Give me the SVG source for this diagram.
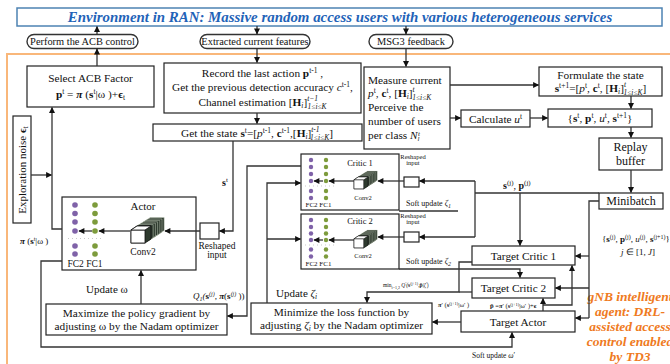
<svg xmlns="http://www.w3.org/2000/svg" xmlns:xlink="http://www.w3.org/1999/xlink" width="670" height="364" viewBox="0 0 670 364">
<defs>
<style>
text{font-family:"Liberation Serif","Times New Roman",serif;fill:#111}
.bx{fill:#fff;stroke:#222;stroke-width:1.2}
.pill{fill:#fff;stroke:#333;stroke-width:1.4}
.ln{fill:none;stroke:#333;stroke-width:1.3}
.ar{fill:none;stroke:#333;stroke-width:1.3;marker-end:url(#ah)}
.t{font-size:11.3px}
.pt{font-size:10.4px}
.c{text-anchor:middle}
.b{font-weight:bold}
.i{font-style:italic}
.pu{fill:#7f62a8}
.gr{fill:#7d9b3c}
.sep{stroke:#bbb;stroke-width:0.8;stroke-dasharray:1 3}
.or{fill:#ef7a22}
</style>
<marker id="ah" viewBox="0 0 10 10" refX="9" refY="5" markerWidth="7" markerHeight="6" markerUnits="userSpaceOnUse" orient="auto">
<path d="M0,0 L10,5 L0,10 z" fill="#111"/>
</marker>
<g id="conv">
<polygon points="13.2,5.6 19.2,1.6 33.2,1.6 33.2,14.6 27.2,18.6 13.2,18.6" fill="#2e3a2e" stroke="#c9d2c0" stroke-width="0.5"/>
<polygon points="11,7 17,3 31,3 31,16 25,20 11,20" fill="#2e3a2e" stroke="#c9d2c0" stroke-width="0.5"/>
<polygon points="8.8,8.4 14.8,4.4 28.8,4.4 28.8,17.4 22.8,21.4 8.8,21.4" fill="#2e3a2e" stroke="#c9d2c0" stroke-width="0.5"/>
<polygon points="6.6,9.8 12.6,5.8 26.6,5.8 26.6,18.8 20.6,22.8 6.6,22.8" fill="#2e3a2e" stroke="#c9d2c0" stroke-width="0.5"/>
<polygon points="4.4,11.2 10.4,7.2 24.4,7.2 24.4,20.2 18.4,24.2 4.4,24.2" fill="#2e3a2e" stroke="#c9d2c0" stroke-width="0.5"/>
<polygon points="2.2,12.6 8.2,8.6 22.2,8.6 22.2,21.6 16.2,25.6 2.2,25.6" fill="#2e3a2e" stroke="#c9d2c0" stroke-width="0.5"/>
<polygon points="0,14 6,10 20,10 20,23 14,27 0,27" fill="#2e3a2e" stroke="#111" stroke-width="0.8"/>
<rect x="0" y="14" width="14" height="13" fill="#fff" stroke="#111" stroke-width="0.8"/>
<polygon points="0,14 6,10 20,10 14,14" fill="#fff" stroke="#111" stroke-width="0.8"/>
</g>
</defs>

<rect width="670" height="364" fill="#fff"/>

<!-- orange frame -->
<path d="M7,364 L7,54 L670,54" fill="none" stroke="#f9b77a" stroke-width="2"/>

<g id="banner">
<rect x="17" y="8" width="645" height="18" fill="#fff" stroke="#4d83b3" stroke-width="1.5"/>
<text x="340" y="21.7" class="c b i" style="font-size:14.9px;fill:#1f63b8">Environment in RAN: Massive random access users with various heterogeneous services</text>
</g>

<g id="perform">
<rect x="27" y="34.5" width="111" height="14" rx="7" class="pill"/>
<text x="82.5" y="45.2" class="pt c">Perform the ACB control</text>
</g>
<g id="extracted">
<rect x="200" y="34.5" width="110" height="14" rx="7" class="pill"/>
<text x="255" y="45.2" class="pt c">Extracted current features</text>
</g>
<g id="msg3">
<rect x="369" y="34.5" width="84" height="14" rx="7" class="pill"/>
<text x="411" y="45.2" class="pt c">MSG3 feedback</text>
</g>

<g id="select">
<rect x="27" y="66" width="127" height="41" class="bx"/>
<text x="90.5" y="82" class="t c">Select ACB Factor</text>
<text x="90.5" y="98" class="t c"><tspan class="b">p</tspan><tspan dy="-4" font-size="7.5">t</tspan><tspan dy="4"> = </tspan><tspan class="b i">π</tspan><tspan> (</tspan><tspan class="b">s</tspan><tspan dy="-4" font-size="7.5">t</tspan><tspan dy="4">|ω )+</tspan><tspan class="b">ϵ</tspan><tspan dy="2" font-size="7.5">t</tspan></text>
</g>

<g id="record">
<rect x="164" y="63" width="197" height="50" class="bx"/>
<text x="262.5" y="77" class="t c">Record the last action <tspan class="b">p</tspan><tspan dy="-4" font-size="7.5">t-1</tspan><tspan dy="4"> ,</tspan></text>
<text x="262.5" y="91" class="t c">Get the previous detection accuracy <tspan class="i">c</tspan><tspan dy="-4" font-size="7.5">t-1</tspan><tspan dy="4">,</tspan></text>
<text x="262.5" y="106" class="t c">Channel estimation [<tspan class="b">H</tspan><tspan class="i" dy="2" font-size="7.5">i</tspan><tspan dy="-2">]</tspan><tspan class="i" dy="-5" font-size="7.5">t−1</tspan><tspan class="i" dx="-10" dy="8" font-size="7.5">1≤i≤K</tspan></text>
</g>

<g id="getstate">
<rect x="153" y="124" width="209" height="17" class="bx"/>
<text x="257" y="137" class="t c">Get the state <tspan class="b">s</tspan><tspan dy="-4" font-size="7.5">t</tspan><tspan dy="4">=[</tspan><tspan class="i">p</tspan><tspan dy="-4" font-size="7.5">t-1</tspan><tspan dy="4">, </tspan><tspan class="b">c</tspan><tspan dy="-4" font-size="7.5">t-1</tspan><tspan dy="4">,[</tspan><tspan class="b">H</tspan><tspan class="i" dy="2" font-size="7.5">i</tspan><tspan dy="-2">]</tspan><tspan class="i" dy="-5" font-size="7.5">t-1</tspan><tspan class="i" dx="-9" dy="8" font-size="7.5">1≤i≤K</tspan><tspan dy="-3">]</tspan></text>
</g>

<g id="measure">
<rect x="364" y="67" width="86" height="82" class="bx"/>
<text x="368" y="84" class="t">Measure current</text>
<text x="368" y="97" class="t"><tspan class="i">p</tspan><tspan dy="-4" font-size="7.5">t</tspan><tspan dy="4">, </tspan><tspan class="b">c</tspan><tspan dy="-4" font-size="7.5">t</tspan><tspan dy="4">, [</tspan><tspan class="b">H</tspan><tspan class="i" dy="2" font-size="7.5">i</tspan><tspan dy="-2">]</tspan><tspan class="i" dy="-5" font-size="7.5">t</tspan><tspan class="i" dx="-2.5" dy="8" font-size="7.5">1≤i≤K</tspan></text>
<text x="368" y="111" class="t">Perceive the</text>
<text x="368" y="125" class="t">number of users</text>
<text x="368" y="139" class="t">per class <tspan class="i">N</tspan><tspan class="i" dy="2" font-size="7">l</tspan><tspan class="i" dy="-5" dx="-1.5" font-size="7">t</tspan></text>
</g>

<g id="formulate">
<rect x="539" y="67" width="123" height="29" class="bx"/>
<text x="600.5" y="79" class="t c">Formulate the state</text>
<text x="600.5" y="92" class="t c"><tspan class="b">s</tspan><tspan dy="-4" font-size="7.5">t+1</tspan><tspan dy="4">=[</tspan><tspan class="i">p</tspan><tspan dy="-4" font-size="7.5">t</tspan><tspan dy="4">, </tspan><tspan class="b">c</tspan><tspan dy="-4" font-size="7.5">t</tspan><tspan dy="4">, [</tspan><tspan class="b">H</tspan><tspan class="i" dy="2" font-size="7.5">i</tspan><tspan dy="-2">]</tspan><tspan class="i" dy="-5" font-size="7.5">t</tspan><tspan class="i" dx="-2.5" dy="8" font-size="7.5">1≤i≤K</tspan><tspan dy="-3">]</tspan></text>
</g>

<g id="calculate">
<rect x="461" y="110" width="69" height="17" class="bx"/>
<text x="495.5" y="122.5" class="t c">Calculate  <tspan class="i">u</tspan><tspan dy="-4" font-size="7.5">t</tspan></text>
</g>

<g id="tuple">
<rect x="548" y="109" width="104" height="18" class="bx"/>
<text x="600" y="122" class="t c">{<tspan class="b">s</tspan><tspan dy="-4" font-size="7.5">t</tspan><tspan dy="4">, </tspan><tspan class="b">p</tspan><tspan dy="-4" font-size="7.5">t</tspan><tspan dy="4">, </tspan><tspan class="i">u</tspan><tspan dy="-4" font-size="7.5">t</tspan><tspan dy="4">,  </tspan><tspan class="b">s</tspan><tspan dy="-4" font-size="7.5">t+1</tspan><tspan dy="4">}</tspan></text>
</g>

<g id="replay">
<rect x="599" y="138" width="63" height="32" class="bx"/>
<text x="630.5" y="151" class="c" font-size="12">Replay</text>
<text x="630.5" y="165" class="c" font-size="12">buffer</text>
</g>

<g id="minibatch">
<rect x="599" y="193" width="64" height="16" class="bx"/>
<text x="631" y="205" class="c" font-size="12">Minibatch</text>
</g>

<g id="noise">
<rect x="13" y="116" width="18" height="107" class="bx"/>
<text transform="translate(26,170) rotate(-90)" class="c" font-size="11">Exploration noise <tspan class="b">ϵ</tspan><tspan dy="2" font-size="7.5">t</tspan></text>
</g>

<g id="actor">
<rect x="62" y="197" width="134" height="73" class="bx"/>
<text x="143" y="210" class="c" font-size="11">Actor</text>
<use xlink:href="#conv" href="#conv" x="131" y="216"/>
<text x="143" y="255" class="c" font-size="9.5">Conv2</text>
<g class="pu"><circle cx="75" cy="205" r="2.8"/><circle cx="75" cy="213.5" r="2.8"/><circle cx="75" cy="222" r="2.8"/><circle cx="75" cy="231" r="2.8"/><circle cx="75" cy="246" r="2.8"/><circle cx="75" cy="254" r="2.8"/></g>
<g class="gr"><circle cx="95" cy="205" r="2.8"/><circle cx="95" cy="213.5" r="2.8"/><circle cx="95" cy="222" r="2.8"/><circle cx="95" cy="231" r="2.8"/><circle cx="95" cy="246" r="2.8"/><circle cx="95" cy="254" r="2.8"/></g>
<line x1="68" y1="238.5" x2="102" y2="238.5" class="sep"/>
<text x="85" y="267" class="c" font-size="9.5">FC2 FC1</text>
<line x1="130" y1="231" x2="99" y2="231" class="ar"/>
<line x1="92" y1="231" x2="79" y2="231" class="ar"/>
</g>

<g id="actor-reshaped">
<rect x="200" y="223" width="19" height="16" class="bx"/>
<text x="217" y="249" class="c" font-size="9.5">Reshaped</text>
<text x="217" y="258" class="c" font-size="9.5">input</text>
</g>

<g id="critic1">
<rect x="301" y="154" width="98" height="56" class="bx"/>
<text x="360" y="166" class="c" font-size="8.5">Critic 1</text>
<use xlink:href="#conv" href="#conv" transform="translate(354,170) scale(0.7)"/>
<text x="363" y="200" class="c" font-size="6.5">Conv2</text>
<g class="pu"><circle cx="311" cy="160" r="2.2"/><circle cx="311" cy="167" r="2.2"/><circle cx="311" cy="174" r="2.2"/><circle cx="311" cy="181" r="2.2"/><circle cx="311" cy="191" r="2.2"/><circle cx="311" cy="198" r="2.2"/></g>
<g class="gr"><circle cx="326" cy="160" r="2.2"/><circle cx="326" cy="167" r="2.2"/><circle cx="326" cy="174" r="2.2"/><circle cx="326" cy="181" r="2.2"/><circle cx="326" cy="191" r="2.2"/><circle cx="326" cy="198" r="2.2"/></g>
<line x1="305" y1="186" x2="335" y2="186" class="sep"/>
<text x="318.5" y="207" class="c" font-size="7">FC2 FC1</text>
<line x1="354" y1="181" x2="329" y2="181" class="ar"/>
<line x1="323" y1="181" x2="314" y2="181" class="ar"/>
<rect x="404" y="177" width="15" height="10" class="bx"/>
<text x="413" y="159" class="c" font-size="6.5">Reshaped</text>
<text x="413" y="165" class="c" font-size="6.5">input</text>
<line x1="404" y1="181" x2="378" y2="181" class="ar"/>
<text x="406" y="206" font-size="8">Soft update <tspan class="i">ζ</tspan><tspan class="i" dy="2" font-size="6">1</tspan></text>
</g>

<g id="critic2">
<rect x="301" y="214" width="98" height="55" class="bx"/>
<text x="360" y="224" class="c" font-size="8.5">Critic 2</text>
<use xlink:href="#conv" href="#conv" transform="translate(354,229) scale(0.7)"/>
<text x="363" y="258" class="c" font-size="6.5">Conv2</text>
<g class="pu"><circle cx="311" cy="220" r="2.2"/><circle cx="311" cy="227" r="2.2"/><circle cx="311" cy="233.5" r="2.2"/><circle cx="311" cy="240" r="2.2"/><circle cx="311" cy="249.5" r="2.2"/><circle cx="311" cy="256.5" r="2.2"/></g>
<g class="gr"><circle cx="326" cy="220" r="2.2"/><circle cx="326" cy="227" r="2.2"/><circle cx="326" cy="233.5" r="2.2"/><circle cx="326" cy="240" r="2.2"/><circle cx="326" cy="249.5" r="2.2"/><circle cx="326" cy="256.5" r="2.2"/></g>
<line x1="305" y1="245" x2="335" y2="245" class="sep"/>
<text x="318.5" y="266" class="c" font-size="7">FC2 FC1</text>
<line x1="354" y1="240" x2="329" y2="240" class="ar"/>
<line x1="323" y1="240" x2="314" y2="240" class="ar"/>
<rect x="404" y="232" width="15" height="10" class="bx"/>
<text x="413" y="218" class="c" font-size="6.5">Reshaped</text>
<text x="413" y="224" class="c" font-size="6.5">input</text>
<line x1="404" y1="237" x2="378" y2="237" class="ar"/>
<text x="406" y="264" font-size="8">Soft update <tspan class="i">ζ</tspan><tspan class="i" dy="2" font-size="6">2</tspan></text>
</g>

<g id="maximize">
<rect x="46" y="304" width="181" height="31" class="bx"/>
<text x="136.5" y="317" class="t c">Maximize the policy gradient by</text>
<text x="136.5" y="330" class="t c">adjusting ω  by the Nadam optimizer</text>
</g>

<g id="minimize">
<rect x="251" y="303" width="181" height="31" class="bx"/>
<text x="341.5" y="316" class="t c">Minimize the loss function by</text>
<text x="341.5" y="329" class="t c">adjusting <tspan class="i">ζ</tspan><tspan class="i" dy="2" font-size="7.5">i</tspan><tspan dy="-2"> by the Nadam optimizer</tspan></text>
</g>

<g id="target-critic1">
<rect x="472" y="246" width="103" height="19" class="bx"/>
<text x="523.5" y="259.5" class="t c">Target Critic 1</text>
</g>
<g id="target-critic2">
<rect x="472" y="278" width="83" height="20" class="bx"/>
<text x="513.5" y="292" class="t c">Target Critic 2</text>
</g>
<g id="target-actor">
<rect x="461" y="311" width="114" height="21" class="bx"/>
<text x="518" y="325.5" class="t c">Target Actor</text>
</g>

<g id="gnb-label" class="b i" style="font-size:13.5px">
<text x="630" y="301" class="c or">gNB intelligent</text>
<text x="630" y="316" class="c or">agent: DRL-</text>
<text x="630" y="331" class="c or">assisted access</text>
<text x="630" y="346" class="c or">control enabled</text>
<text x="630" y="361" class="c or">by TD3</text>
</g>

<g id="labels">
<text x="222" y="186" class="b" font-size="10">s<tspan dy="-4" font-size="7" font-weight="normal">t</tspan></text>
<text x="20" y="244" font-size="9"><tspan class="b i">π</tspan> (<tspan class="b">s</tspan><tspan dy="-3.5" font-size="6">t</tspan><tspan dy="3.5">|ω )</tspan></text>
<text x="86" y="293" font-size="11">Update ω</text>
<text x="276" y="297" font-size="11">Update <tspan class="i">ζ</tspan><tspan class="i" dy="2" font-size="7.5">i</tspan></text>
<text x="193" y="299" font-size="9" class="i">Q<tspan dy="2" font-size="6">1</tspan><tspan dy="-2">(</tspan><tspan class="b" font-style="normal">s</tspan><tspan dy="-3.5" font-size="6">(j)</tspan><tspan dy="3.5">, </tspan><tspan class="b">π</tspan><tspan font-style="normal">(</tspan><tspan class="b" font-style="normal">s</tspan><tspan dy="-3.5" font-size="6">(j)</tspan><tspan dy="3.5" font-style="normal"> ))</tspan></text>
<text x="503" y="189" class="b" font-size="10">s<tspan dy="-4" font-size="7" font-weight="normal">(j)</tspan><tspan dy="4" font-weight="normal">, </tspan>p<tspan dy="-4" font-size="7" font-weight="normal">(j)</tspan></text>
<text x="602" y="242" font-size="9">{<tspan class="b">s</tspan><tspan dy="-3.5" font-size="6">(j)</tspan><tspan dy="3.5">, </tspan><tspan class="b">p</tspan><tspan dy="-3.5" font-size="6">(j)</tspan><tspan dy="3.5">, </tspan><tspan class="i">u</tspan><tspan dy="-3.5" font-size="6">(j)</tspan><tspan dy="3.5">,  </tspan><tspan class="b">s</tspan><tspan dy="-3.5" font-size="6">(j+1)</tspan><tspan dy="3.5">}</tspan></text>
<text x="638" y="255" class="c" font-size="9"><tspan class="i">j</tspan> ∈ [1, <tspan class="i">J</tspan>]</text>
<text x="383" y="287" font-size="5.5">min<tspan dy="1.5" font-size="4">i=1,2</tspan><tspan dy="-1.5"> </tspan><tspan class="i">Q</tspan><tspan class="i" dy="-2.5" font-size="4">′</tspan><tspan class="i" dy="2.5">(</tspan><tspan class="b">s</tspan><tspan dy="-2.5" font-size="4">(j+1)</tspan><tspan dy="2.5">,</tspan><tspan class="b">p̃</tspan>|<tspan class="i">ζ</tspan><tspan class="i" dy="-2.5" font-size="4">′</tspan><tspan dy="2.5">)</tspan></text>
<text x="438" y="307" font-size="6.5"><tspan class="b i">π</tspan>′ (<tspan class="b">s</tspan><tspan dy="-2.5" font-size="4.5">(j+1)</tspan><tspan dy="2.5">|ω′ )</tspan></text>
<text x="490" y="308" font-size="6.5"><tspan class="b">p̃</tspan> =<tspan class="b i">π</tspan>′ (<tspan class="b">s</tspan><tspan dy="-2.5" font-size="4.5">(j+1)</tspan><tspan dy="2.5">|ω′ )+</tspan><tspan class="b">ϵ</tspan></text>
<text x="472" y="358" font-size="7.5">Soft update <tspan class="i">ω</tspan>′</text>
</g>

<g id="connectors">
<line x1="97" y1="34.5" x2="97" y2="26.5" class="ar"/>
<line x1="257" y1="26" x2="257" y2="34" class="ar"/>
<line x1="406" y1="26" x2="406" y2="34" class="ar"/>
<line x1="97" y1="66" x2="97" y2="49" class="ar"/>
<line x1="257" y1="48.5" x2="257" y2="62.5" class="ar"/>
<line x1="406" y1="48.5" x2="406" y2="66.5" class="ar"/>
<line x1="257" y1="113" x2="257" y2="123.5" class="ar"/>
<polyline points="233,141 233,231 219.5,231" class="ar"/>
<line x1="450" y1="85" x2="538.5" y2="85" class="ar"/>
<line x1="450" y1="118" x2="460.5" y2="118" class="ar"/>
<line x1="530" y1="118" x2="547.5" y2="118" class="ar"/>
<line x1="631" y1="96" x2="631" y2="108.5" class="ar"/>
<line x1="631" y1="127" x2="631" y2="137.5" class="ar"/>
<line x1="631" y1="170" x2="631" y2="192.5" class="ar"/>
<line x1="31" y1="175" x2="51.5" y2="175" class="ar"/>
<polyline points="62,229 52,229 52,107.5" class="ar"/>
<line x1="200" y1="231" x2="165" y2="231" class="ar"/>
<line x1="141" y1="304" x2="141" y2="270.5" class="ar"/>
<polyline points="62,261 41,261 41,347 512,347 512,332.5" class="ar"/>
<polyline points="301,166 247,166 247,316 227.5,316" class="ar"/>
<polyline points="267,303 267,183 300.5,183" class="ar"/>
<line x1="267" y1="239" x2="300.5" y2="239" class="ar"/>
<polyline points="599,193 475,193" class="ln"/>
<line x1="475" y1="181" x2="475" y2="237" class="ln"/>
<line x1="475" y1="181" x2="419.5" y2="181" class="ar"/>
<line x1="475" y1="237" x2="419.5" y2="237" class="ar"/>
<line x1="520" y1="193" x2="520" y2="245.5" class="ar"/>
<polyline points="399,211 458,211" class="ln"/>
<polyline points="399,269 520,269 520,277.5" class="ar"/>
<polyline points="472,262 459,262 459,292 367,292 367,302.5" class="ar"/>
<line x1="472" y1="292" x2="459" y2="292" class="ln"/>
<line x1="461" y1="322" x2="432.5" y2="322" class="ar"/>
<line x1="543" y1="311" x2="543" y2="298.5" class="ar"/>
<polyline points="543,305 572,305 572,265.5" class="ar"/>
<polyline points="599,201 589,201 589,318" class="ln"/>
<line x1="589" y1="256" x2="575.5" y2="256" class="ar"/>
<line x1="589" y1="288" x2="555.5" y2="288" class="ar"/>
<line x1="589" y1="318" x2="575.5" y2="318" class="ar"/>
</g>
</svg>
